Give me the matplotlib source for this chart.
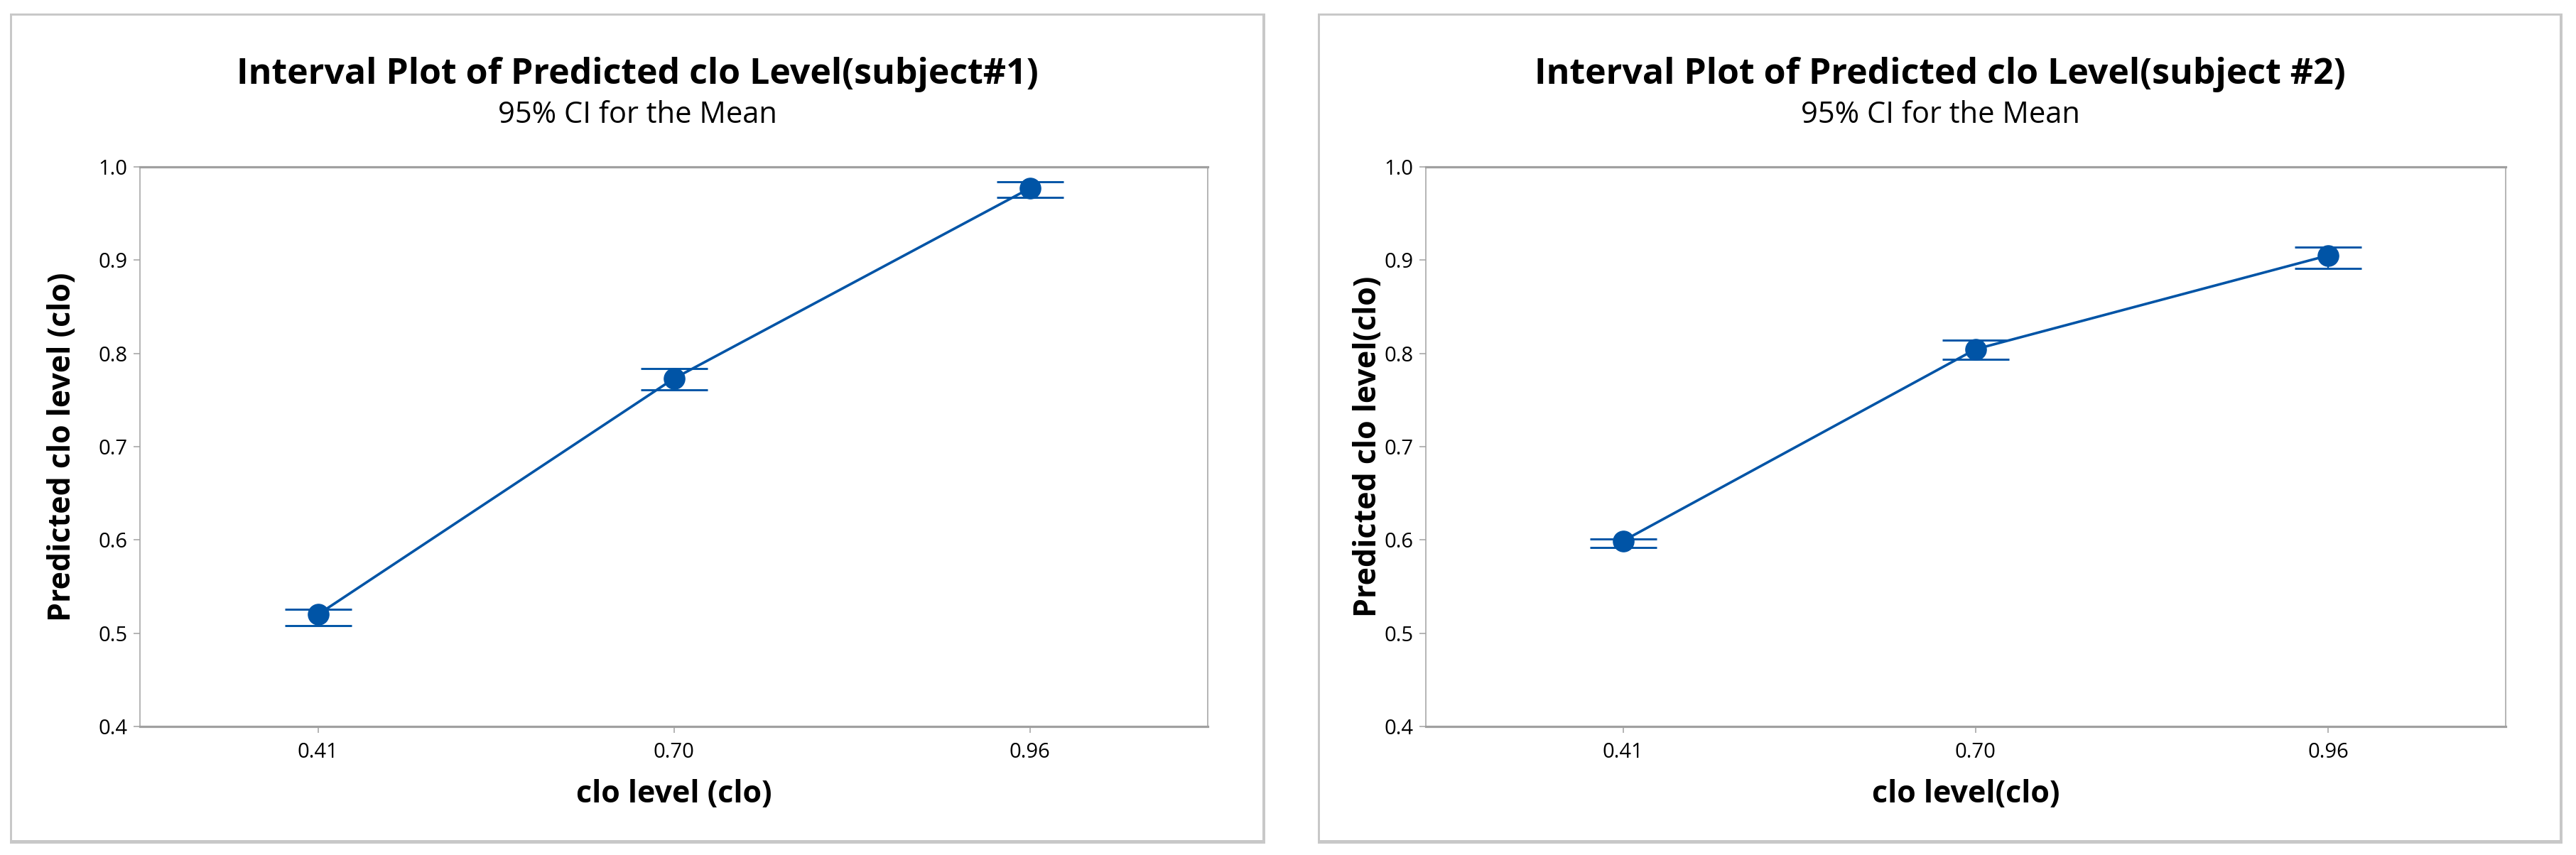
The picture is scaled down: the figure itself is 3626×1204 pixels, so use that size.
import matplotlib
matplotlib.use('Agg')
import matplotlib.pyplot as plt
from matplotlib.patches import Rectangle

# ---------------- data ----------------
categories = ['0.41', '0.70', '0.96']

s1_mean = [0.520, 0.773, 0.977]
s1_low = [0.508, 0.761, 0.9675]
s1_high = [0.526, 0.784, 0.984]

s2_mean = [0.599, 0.8045, 0.905]
s2_low = [0.592, 0.794, 0.891]
s2_high = [0.601, 0.814, 0.914]

yticks = [0.4, 0.5, 0.6, 0.7, 0.8, 0.9, 1.0]
ytick_labels = ['0.4', '0.5', '0.6', '0.7', '0.8', '0.9', '1.0']

titles = ['Interval Plot of Predicted clo Level(subject#1)',
          'Interval Plot of Predicted clo Level(subject #2)']
subtitle = '95% CI for the Mean'
xlabels = ['clo level (clo)', 'clo level(clo)']
ylabels = ['Predicted clo level (clo)', 'Predicted clo level(clo)']

# ---------------- style ----------------
plt.rcParams['font.family'] = ['Open Sans', 'DejaVu Sans']
W, H = 3626, 1204
BLUE = '#0054a6'
SPINE = '#a0a0a0'
BORDER = '#c8c8c8'

fig = plt.figure(figsize=(W / 100, H / 100), dpi=100)


def fx(px):
    return px / W


def fy(py):
    return 1 - py / H


def border(x0, y0, x1, y1):
    # top (thin), left (thin), right (thick), bottom (thick)
    for (a, b, c, d) in [(x0, y0, x1, y0 + 3), (x0, y0, x0 + 3, y1),
                         (x1 - 4, y0, x1, y1), (x0, y1 - 5, x1, y1)]:
        fig.patches.append(Rectangle((fx(a), fy(d)), fx(c) - fx(a), fy(b) - fy(d),
                                     transform=fig.transFigure, facecolor=BORDER,
                                     edgecolor='none'))


panels = [
    dict(box=(14, 19, 1781, 1188), ax=(197, 235, 1700, 1023), xlim=(-0.5, 2.5),
         ylab_x=88, mean=s1_mean, low=s1_low, high=s1_high),
    dict(box=(1855, 19, 3607, 1188), ax=(2007, 235, 3527, 1023), xlim=(-0.56, 2.504),
         ylab_x=1926, mean=s2_mean, low=s2_low, high=s2_high),
]

for i, p in enumerate(panels):
    border(*p['box'])
    l, t, r, b = p['ax']
    ax = fig.add_axes([fx(l), fy(b), fx(r) - fx(l), fy(t) - fy(b)])
    x = list(range(len(categories)))
    mean, low, high = p['mean'], p['low'], p['high']
    yerr = [[m - lo for m, lo in zip(mean, low)], [hi - m for m, hi in zip(mean, high)]]
    ax.plot(x, mean, color=BLUE, lw=2.6, zorder=2)
    ax.errorbar(x, mean, yerr=yerr, fmt='o', color=BLUE, ms=21, capsize=34,
                capthick=2.1, elinewidth=1.6, zorder=3)
    ax.set_xlim(*p['xlim'])
    ax.set_ylim(0.4, 1.0)
    ax.set_xticks(x)
    ax.set_xticklabels(categories)
    ax.set_yticks(yticks)
    ax.set_yticklabels(ytick_labels)
    for side in ['top', 'bottom']:
        ax.spines[side].set_linewidth(2.3)
        ax.spines[side].set_color(SPINE)
    for side in ['left', 'right']:
        ax.spines[side].set_linewidth(1.1)
        ax.spines[side].set_color(SPINE)
    ax.tick_params(axis='both', direction='out', length=6.5, width=1.1, color=SPINE,
                   labelsize=21, labelcolor='black')
    ax.tick_params(axis='x', pad=9.5)
    ax.tick_params(axis='y', pad=6)
    ax.set_xlabel(xlabels[i], fontsize=31, fontweight='bold', va='baseline')
    ax.xaxis.set_label_coords(0.5, -(1130 - b) / (b - t))
    ax.set_ylabel(ylabels[i], fontsize=31, fontweight='bold', va='center')
    ax.yaxis.set_label_coords((p['ylab_x'] - l) / (r - l), 0.5)

    cx = (p['box'][0] + p['box'][2]) / 2
    fig.text(fx(cx), fy(118), titles[i], ha='center', va='baseline',
             fontsize=36, fontweight='bold')
    fig.text(fx(cx), fy(173), subtitle, ha='center', va='baseline', fontsize=30)

fig.savefig('out.png', dpi=100)
